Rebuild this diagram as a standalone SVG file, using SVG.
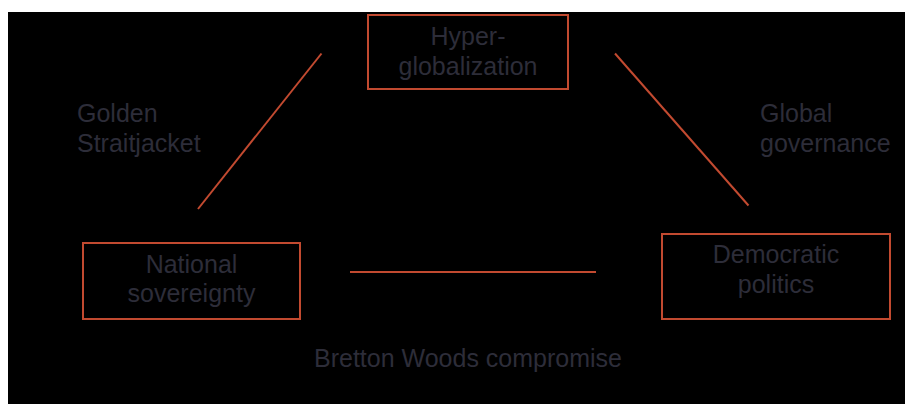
<svg xmlns="http://www.w3.org/2000/svg" width="905" height="404" viewBox="0 0 905 404">
<style>
.box{fill:none;stroke:#c24a30;stroke-width:2}
.ln{stroke:#c24a30;stroke-width:2;fill:none}
text{font-family:"Liberation Sans",Arial,sans-serif;font-size:25px;fill:#2d2d39}
.c{text-anchor:middle}
</style>
<rect x="0" y="0" width="905" height="404" fill="#ffffff"/>
<rect x="8" y="12" width="897" height="392" fill="#000000"/>
<g id="connectors">
<line class="ln" x1="321.5" y1="53.5" x2="198" y2="209"/>
<line class="ln" x1="615" y1="53.5" x2="748.5" y2="205.5"/>
<line class="ln" x1="350" y1="272" x2="596" y2="272"/>
</g>
<g id="hyperglobalization">
<rect class="box" x="368" y="15" width="200" height="74"/>
<text class="c" x="468" y="45">Hyper-</text>
<text class="c" x="468" y="75">globalization</text>
</g>
<g id="national-sovereignty">
<rect class="box" x="83" y="243" width="217" height="76"/>
<text class="c" x="191.5" y="273">National</text>
<text class="c" x="191.5" y="302">sovereignty</text>
</g>
<g id="democratic-politics">
<rect class="box" x="662" y="234" width="228" height="85"/>
<text class="c" x="776" y="263">Democratic</text>
<text class="c" x="776" y="293">politics</text>
</g>
<g id="labels">
<text x="77" y="122">Golden</text>
<text x="77" y="152">Straitjacket</text>
<text x="760" y="122">Global</text>
<text x="760" y="152">governance</text>
<text x="314" y="367">Bretton Woods compromise</text>
</g>
</svg>
